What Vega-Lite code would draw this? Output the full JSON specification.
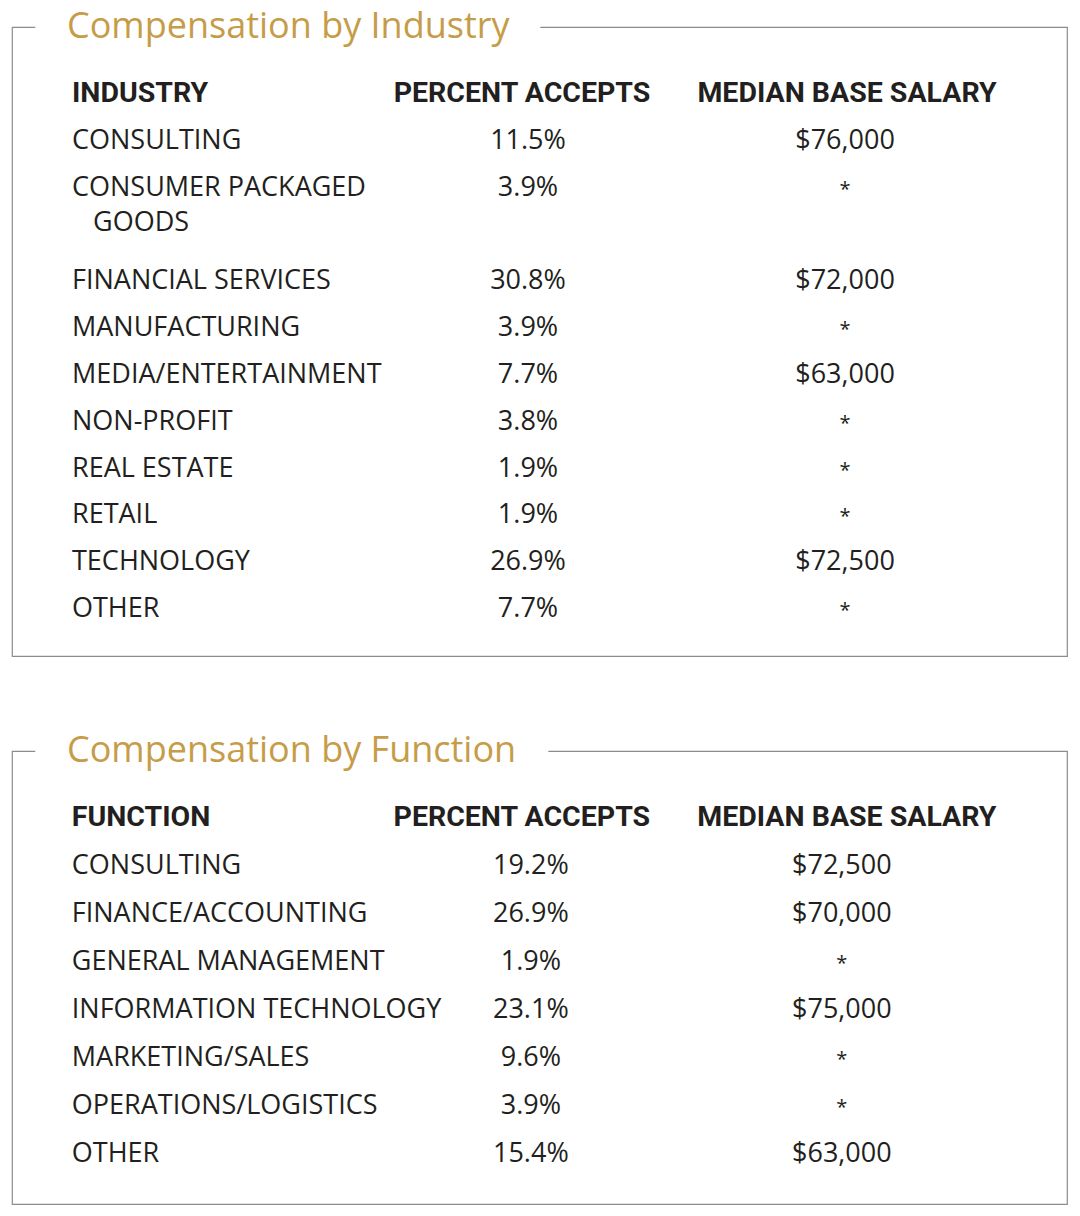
{
  "$schema": "https://vega.github.io/schema/vega-lite/v6.json",
  "background": "white",
  "padding": {"left": 11, "top": 8, "right": 12, "bottom": 8},
  "spacing": 75,
  "config": {
    "text": {"font": "Open Sans", "fontSize": 27, "color": "#231f20", "baseline": "alphabetic", "lineBreak": "\n", "lineHeight": 35},
    "title": {"anchor": "start", "frame": "group", "font": "Open Sans", "fontSize": 36, "fontWeight": 500, "color": "#C69C48", "baseline": "middle", "offset": -19, "dx": 55}
  },
  "vconcat": [
    {
      "width": 1055,
      "height": 629,
      "title": {"text": "Compensation by Industry"},
      "view": {"stroke": "#8c8c8c", "strokeWidth": 1.2, "strokeDash": [23, 505, 5000], "fill": null},
      "data": {"values": [
        {"industry": "CONSULTING", "pct": 0.115, "salary": 76000},
        {"industry": "CONSUMER PACKAGED\n\u200b\u00a0\u00a0\u00a0GOODS", "pct": 0.039, "salary": null},
        {"industry": "FINANCIAL SERVICES", "pct": 0.308, "salary": 72000},
        {"industry": "MANUFACTURING", "pct": 0.039, "salary": null},
        {"industry": "MEDIA/ENTERTAINMENT", "pct": 0.077, "salary": 63000},
        {"industry": "NON-PROFIT", "pct": 0.038, "salary": null},
        {"industry": "REAL ESTATE", "pct": 0.019, "salary": null},
        {"industry": "RETAIL", "pct": 0.019, "salary": null},
        {"industry": "TECHNOLOGY", "pct": 0.269, "salary": 72500},
        {"industry": "OTHER", "pct": 0.077, "salary": null}
      ]},
      "encoding": {
        "y": {"field": "industry", "type": "nominal", "sort": null, "axis": null,
          "scale": {"type": "point", "padding": 0, "range": [75, 590],
            "domain": ["__header", "CONSULTING", "CONSUMER PACKAGED\n\u200b\u00a0\u00a0\u00a0GOODS", "__gap", "FINANCIAL SERVICES", "MANUFACTURING", "MEDIA/ENTERTAINMENT", "NON-PROFIT", "REAL ESTATE", "RETAIL", "TECHNOLOGY", "OTHER"]}}
      },
      "layer": [
        {
          "mark": {"type": "text", "align": "left", "dx": -139},
          "encoding": {
            "x": {"datum": "label", "type": "nominal", "axis": null,
              "scale": {"type": "point", "domain": ["label", "pct", "salary"], "padding": 0.664, "align": 0.4727}},
            "text": {"field": "industry", "type": "nominal"}
          }
        },
        {
          "mark": {"type": "text", "align": "center"},
          "encoding": {
            "x": {"datum": "pct", "type": "nominal", "axis": null},
            "text": {"field": "pct", "type": "quantitative", "format": ".1%"}
          }
        },
        {
          "mark": {"type": "text", "align": "center"},
          "encoding": {
            "x": {"datum": "salary", "type": "nominal", "axis": null},
            "size": {"condition": {"test": "datum.salary == null", "value": 20}, "value": 27},
            "text": {"condition": {"test": "datum.salary == null", "value": "*"}, "field": "salary", "type": "quantitative", "format": "$,.0f"}
          }
        },
        {
          "data": {"values": [{"h": "INDUSTRY"}]},
          "mark": {"type": "text", "align": "left", "dx": -139, "font": "Roboto", "fontWeight": "bold", "fontSize": 28.5},
          "encoding": {
            "x": {"datum": "label", "type": "nominal", "axis": null},
            "y": {"datum": "__header", "type": "nominal", "axis": null},
            "text": {"field": "h", "type": "nominal"}
          }
        },
        {
          "data": {"values": [{"h": "PERCENT ACCEPTS"}]},
          "mark": {"type": "text", "align": "center", "dx": -6, "font": "Roboto", "fontWeight": "bold", "fontSize": 28.5},
          "encoding": {
            "x": {"datum": "pct", "type": "nominal", "axis": null},
            "y": {"datum": "__header", "type": "nominal", "axis": null},
            "text": {"field": "h", "type": "nominal"}
          }
        },
        {
          "data": {"values": [{"h": "MEDIAN BASE SALARY"}]},
          "mark": {"type": "text", "align": "center", "dx": 2, "font": "Roboto", "fontWeight": "bold", "fontSize": 28.5},
          "encoding": {
            "x": {"datum": "salary", "type": "nominal", "axis": null},
            "y": {"datum": "__header", "type": "nominal", "axis": null},
            "text": {"field": "h", "type": "nominal"}
          }
        }
      ]
    },
    {
      "width": 1055,
      "height": 453,
      "title": {"text": "Compensation by Function"},
      "view": {"stroke": "#8c8c8c", "strokeWidth": 1.2, "strokeDash": [23, 513, 5000], "fill": null},
      "data": {"values": [
        {"function": "CONSULTING", "pct": 0.192, "salary": 72500},
        {"function": "FINANCE/ACCOUNTING", "pct": 0.269, "salary": 70000},
        {"function": "GENERAL MANAGEMENT", "pct": 0.019, "salary": null},
        {"function": "INFORMATION TECHNOLOGY", "pct": 0.231, "salary": 75000},
        {"function": "MARKETING/SALES", "pct": 0.096, "salary": null},
        {"function": "OPERATIONS/LOGISTICS", "pct": 0.039, "salary": null},
        {"function": "OTHER", "pct": 0.154, "salary": 63000}
      ]},
      "encoding": {
        "y": {"field": "function", "type": "nominal", "sort": null, "axis": null,
          "scale": {"type": "point", "padding": 0, "range": [75, 411],
            "domain": ["__header", "CONSULTING", "FINANCE/ACCOUNTING", "GENERAL MANAGEMENT", "INFORMATION TECHNOLOGY", "MARKETING/SALES", "OPERATIONS/LOGISTICS", "OTHER"]}}
      },
      "layer": [
        {
          "mark": {"type": "text", "align": "left", "dx": -148},
          "encoding": {
            "x": {"datum": "label", "type": "nominal", "axis": null,
              "scale": {"type": "point", "domain": ["label", "pct", "salary"], "padding": 0.696, "align": 0.48}},
            "text": {"field": "function", "type": "nominal"}
          }
        },
        {
          "mark": {"type": "text", "align": "center"},
          "encoding": {
            "x": {"datum": "pct", "type": "nominal", "axis": null},
            "text": {"field": "pct", "type": "quantitative", "format": ".1%"}
          }
        },
        {
          "mark": {"type": "text", "align": "center"},
          "encoding": {
            "x": {"datum": "salary", "type": "nominal", "axis": null},
            "size": {"condition": {"test": "datum.salary == null", "value": 20}, "value": 27},
            "text": {"condition": {"test": "datum.salary == null", "value": "*"}, "field": "salary", "type": "quantitative", "format": "$,.0f"}
          }
        },
        {
          "data": {"values": [{"h": "FUNCTION"}]},
          "mark": {"type": "text", "align": "left", "dx": -148, "font": "Roboto", "fontWeight": "bold", "fontSize": 28.5},
          "encoding": {
            "x": {"datum": "label", "type": "nominal", "axis": null},
            "y": {"datum": "__header", "type": "nominal", "axis": null},
            "text": {"field": "h", "type": "nominal"}
          }
        },
        {
          "data": {"values": [{"h": "PERCENT ACCEPTS"}]},
          "mark": {"type": "text", "align": "center", "dx": -9, "font": "Roboto", "fontWeight": "bold", "fontSize": 28.5},
          "encoding": {
            "x": {"datum": "pct", "type": "nominal", "axis": null},
            "y": {"datum": "__header", "type": "nominal", "axis": null},
            "text": {"field": "h", "type": "nominal"}
          }
        },
        {
          "data": {"values": [{"h": "MEDIAN BASE SALARY"}]},
          "mark": {"type": "text", "align": "center", "dx": 5, "font": "Roboto", "fontWeight": "bold", "fontSize": 28.5},
          "encoding": {
            "x": {"datum": "salary", "type": "nominal", "axis": null},
            "y": {"datum": "__header", "type": "nominal", "axis": null},
            "text": {"field": "h", "type": "nominal"}
          }
        }
      ]
    }
  ]
}
